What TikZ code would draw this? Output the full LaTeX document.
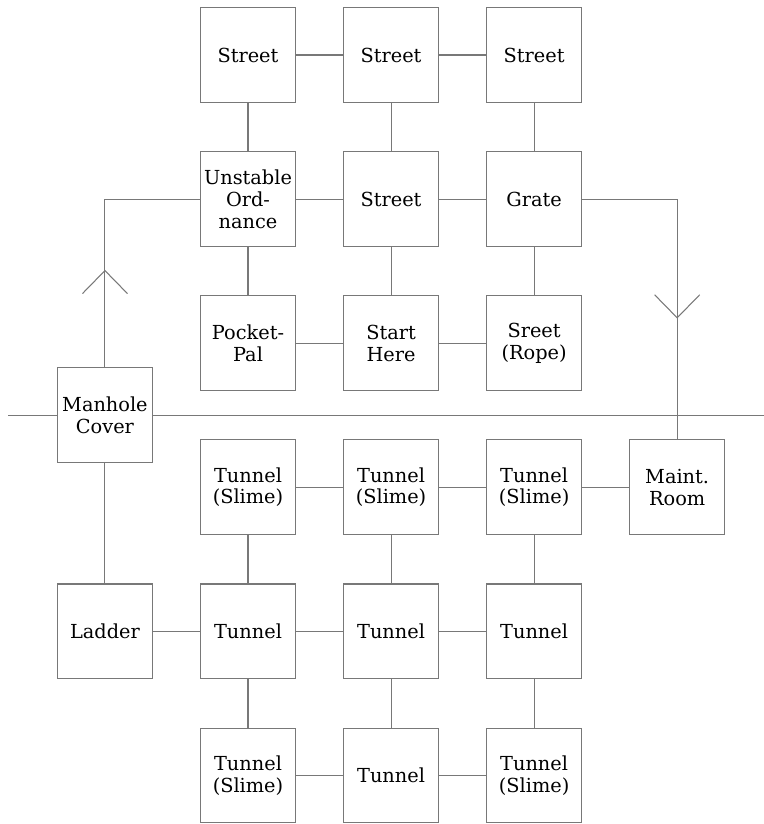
\documentclass[tikz,border=0pt]{standalone}
\usepackage{fontspec}
\setmainfont{DejaVu Serif}
\usepackage{tikz}
\usetikzlibrary{arrows.meta,positioning,calc,decorations.markings}
\definecolor{linegray}{RGB}{120,120,120}

\begin{document}
\begin{tikzpicture}[
  node distance=9.7mm and 9.5mm,
  room/.style={draw=linegray, line width=0.6pt, fill=white, align=center, inner sep=1pt, minimum width=18.9mm, minimum height=18.9mm, font=\fontsize{11}{12.5}\selectfont},
  link/.style={draw=linegray, line width=0.6pt},
  barb/.tip={Straight Barb[length=4.6mm, width=9mm, line width=0.6pt]},
  markat/.style={postaction={decorate}, decoration={markings, mark=at position #1 with {\arrow[linegray]{barb}}}}
]
\useasboundingbox (0,0) rectangle (15.28,-16.48);

% street level
\node[room] (st1) at (4.96,-1.10) {Street};
\node[room, right=of st1] (st2) {Street};
\node[room, right=of st2] (st3) {Street};
\node[room, below=of st1] (ordn) {Unstable\\Ord-\\nance};
\node[room, right=of ordn] (st4) {Street};
\node[room, right=of st4] (grate) {Grate};
\node[room, below=of ordn] (pocket) {Pocket-\\Pal};
\node[room, right=of pocket] (start) {Start\\Here};
\node[room, right=of start] (rope) {Sreet\\(Rope)};

% tunnels
\node[room, below=of pocket] (ts1) {Tunnel\\(Slime)};
\node[room, right=of ts1] (ts2) {Tunnel\\(Slime)};
\node[room, right=of ts2] (ts3) {Tunnel\\(Slime)};
\node[room, right=of ts3] (maint) {Maint.\\Room};
\node[room, below=of ts1] (tun1) {Tunnel};
\node[room, right=of tun1] (tun2) {Tunnel};
\node[room, right=of tun2] (tun3) {Tunnel};
\node[room, left=of tun1] (ladder) {Ladder};
\node[room, below=of tun1] (ts4) {Tunnel\\(Slime)};
\node[room, right=of ts4] (tun4) {Tunnel};
\node[room, right=of tun4] (ts5) {Tunnel\\(Slime)};
\coordinate (groundmid) at ($(pocket.south)!0.5!(ts1.north)$);
\node[room] (manhole) at (groundmid -| ladder) {Manhole\\Cover};

\coordinate[left=9.8mm of manhole.west] (westend);
\coordinate (eastend) at ([xshift=7.8mm]manhole.east -| maint.east);

% ground line
\draw[link] (westend) -- (manhole.west);
\draw[link] (manhole.east) -- (eastend);

% streets
\draw[link] (st1) -- (st2);
\draw[link] (st2) -- (st3);
\draw[link] (ordn) -- (st4);
\draw[link] (st4) -- (grate);
\draw[link] (pocket) -- (start);
\draw[link] (start) -- (rope);
\draw[link] (st1) -- (ordn);
\draw[link] (st2) -- (st4);
\draw[link] (st3) -- (grate);
\draw[link] (ordn) -- (pocket);
\draw[link] (st4) -- (start);
\draw[link] (grate) -- (rope);

% tunnels
\draw[link] (ts1) -- (ts2);
\draw[link] (ts2) -- (ts3);
\draw[link] (ts3) -- (maint);
\draw[link] (ladder) -- (tun1);
\draw[link] (tun1) -- (tun2);
\draw[link] (tun2) -- (tun3);
\draw[link] (ts4) -- (tun4);
\draw[link] (tun4) -- (ts5);
\draw[link] (ts1) -- (tun1);
\draw[link] (ts2) -- (tun2);
\draw[link] (ts3) -- (tun3);
\draw[link] (tun1) -- (ts4);
\draw[link] (tun2) -- (tun4);
\draw[link] (tun3) -- (ts5);
\draw[link] (manhole) -- (ladder);

% ways between the levels
\draw[link, markat=0.37] (manhole.north) |- (ordn.west);
\draw[link, markat=0.64] (grate.east) -| (maint.north);
\end{tikzpicture}
\end{document}
